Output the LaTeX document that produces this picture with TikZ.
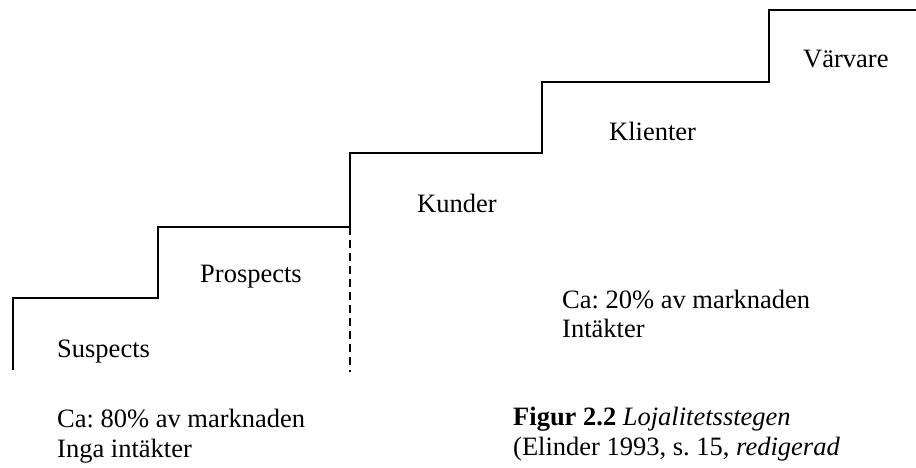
\documentclass[tikz,border=0pt]{standalone}
\usepackage{fontspec}
\setmainfont{Liberation Serif}
\usetikzlibrary{positioning}
\frenchspacing

\begin{document}
\begin{tikzpicture}[
        x=1pt, y=-1pt,
        stair/.style={line width=1.6pt, line join=miter},
        divider/.style={line width=1.6pt, dash pattern=on 8pt off 5pt},
        lbl/.style={anchor=base west, inner sep=0pt, font=\fontsize{26.5}{30}\selectfont}
    ]
        \useasboundingbox (0,0) rectangle (916,467);

        % Corners of the stairs
        \coordinate (c0) at (13,370);
        \coordinate (c1) at (158,298);
        \coordinate (c2) at (350,227);
        \coordinate (c3) at (542,153);
        \coordinate (c4) at (769,82);
        \coordinate (c5) at (916,10);
        \coordinate (cut) at (350,372);

        % Stairs
        \draw[stair] (c0) |- (c1) |- (c2) |- (c3) |- (c4) |- (c5);
        \draw[divider] (c2) -- (cut);

        % Steps
        \node[lbl] (suspects) at (57,357) {Suspects};
        \node[lbl] (prospects) at (200,282) {Prospects};
        \node[lbl] (kunder) at (417,212) {Kunder};
        \node[lbl] (klienter) at (609,140) {Klienter};
        \node[lbl] (varvare) at (803,67) {Värvare};

        % Market shares
        \node[lbl] (ca80) at (57,427) {Ca: 80\% av marknaden};
        \node[lbl] (inga) at ([yshift=-30pt]ca80.base west) {Inga intäkter};
        \node[lbl] (ca20) at (562,308) {Ca: 20\% av marknaden};
        \node[lbl] (intakter) at ([yshift=-29pt]ca20.base west) {Intäkter};

        % Caption
        \node[lbl] (figur) at (513,425) {\textbf{Figur 2.2} \textit{Lojalitetsstegen}};
        \node[lbl] (kalla) at ([yshift=-30pt]figur.base west) {(Elinder 1993, s. 15, \textit{redigerad}};
    \end{tikzpicture}
\end{document}
